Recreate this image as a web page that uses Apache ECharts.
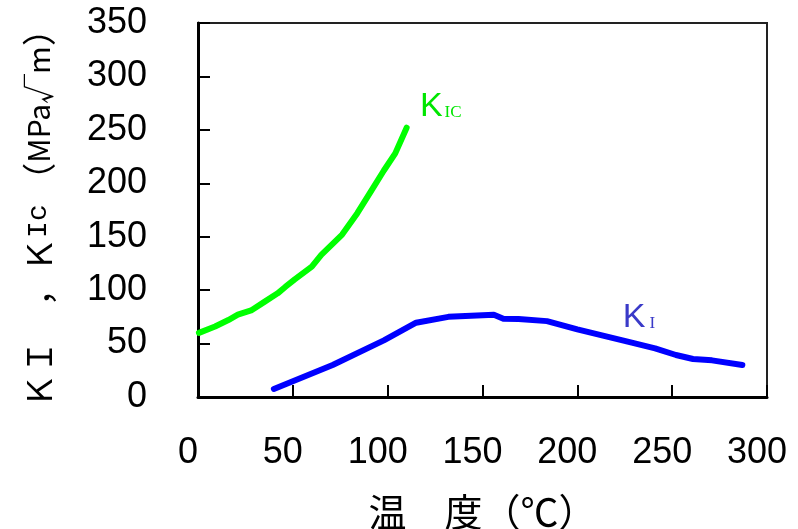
<!DOCTYPE html>
<html>
<head>
<meta charset="utf-8">
<script src="https://cdn.jsdelivr.net/npm/echarts@6/dist/echarts.min.js"></script>
<style>html,body{margin:0;padding:0;background:#fff;}#c{width:798px;height:529px;}</style>
</head>
<body>
<div id="c"></div>
<script>
// Temperature (°C) and K_IC values
const kicTemps = [0.5, 9, 16, 21, 28, 35, 42, 46, 51, 60, 65, 76, 84, 91, 98, 104, 110];
const kicVals  = [60, 66, 72, 77, 81, 89, 97, 103, 110, 122, 133, 152, 172, 192, 212, 228, 252];
// Temperature (°C) and K_I values
const kiTemps = [40, 71, 98, 115, 132, 156, 161, 169, 184, 200, 226, 241, 252, 261, 271, 287];
const kiVals  = [7.5, 30, 53, 69.5, 75, 77, 73.3, 73, 71, 63.3, 52, 45.5, 39.3, 35.6, 34.3, 30];
const xTicks = [0, 50, 100, 150, 200, 250, 300];
const yTicks = [0, 50, 100, 150, 200, 250, 300, 350];
const xName = '温　度（℃）';
const kicLabelPos = [117, 272];
const kiLabelPos = [224, 74];

const chart = echarts.init(document.getElementById('c'), null, {renderer: 'canvas'});
const numFont = 'Liberation Sans';
const xMin = xTicks[0], xMax = xTicks[xTicks.length - 1];
chart.setOption({
  animation: false,
  backgroundColor: '#ffffff',
  grid: {left: 198, right: 31, top: 23, bottom: 132, show: true, borderColor: '#222', borderWidth: 2,
         containLabel: false, outerBoundsMode: 'none'},
  xAxis: {
    type: 'value', position: 'bottom', min: xMin, max: xMax, interval: 50,
    axisLine: {show: true, lineStyle: {color: '#000', width: 3}},
    axisTick: {show: true, inside: true, length: 12, lineStyle: {color: '#000', width: 2}},
    splitLine: {show: false},
    axisLabel: {color: '#000', fontSize: 36, fontFamily: numFont, margin: 38, padding: [0, 20, 0, 0]},
    name: xName, nameLocation: 'middle', nameGap: 96,
    nameTextStyle: {color: '#000', fontSize: 38, fontFamily: 'Noto Sans CJK JP'}
  },
  yAxis: {
    type: 'value', min: yTicks[0], max: yTicks[yTicks.length - 1], interval: 50,
    axisLine: {show: true, lineStyle: {color: '#000', width: 3}},
    axisTick: {show: true, inside: true, length: 12, lineStyle: {color: '#000', width: 2}},
    splitLine: {show: false},
    axisLabel: {color: '#000', fontSize: 36, fontFamily: numFont, margin: 51},
    name: '{a|ＫＩ　，Ｋ}{b|Ic}{a| （}{c|MPa√m}{a|）}',
    nameLocation: 'middle', nameRotate: 90, nameGap: 142,
    nameTextStyle: {
      color: '#000',
      rich: {
        a: {fontSize: 34, fontFamily: 'Noto Sans CJK JP', color: '#000'},
        b: {fontSize: 28, fontFamily: 'Liberation Mono', color: '#000'},
        c: {fontSize: 30, fontFamily: 'Noto Sans CJK JP', color: '#000'}
      }
    }
  },
  series: [
    {
      name: 'KIC', type: 'line', showSymbol: false, symbol: 'none', smooth: false,
      data: kicTemps.map((t, i) => [t, kicVals[i]]),
      lineStyle: {color: '#00ff00', width: 6, cap: 'round', join: 'round'},
      markPoint: {
        symbol: 'circle', symbolSize: 0,
        data: [{coord: kicLabelPos}],
        label: {
          show: true, position: 'right', distance: 0,
          formatter: '{k|K}{s|IC}',
          rich: {
            k: {fontSize: 34, fontFamily: 'Liberation Sans', color: '#00e600'},
            s: {fontSize: 17, fontFamily: 'Liberation Serif', color: '#00e600', padding: [12, 0, 0, 2]}
          }
        }
      }
    },
    {
      name: 'KI', type: 'line', showSymbol: false, symbol: 'none', smooth: false,
      data: kiTemps.map((t, i) => [t, kiVals[i]]),
      lineStyle: {color: '#0000ff', width: 6, cap: 'round', join: 'round'},
      markPoint: {
        symbol: 'circle', symbolSize: 0,
        data: [{coord: kiLabelPos}],
        label: {
          show: true, position: 'right', distance: 0,
          formatter: '{k|K}{s|I}',
          rich: {
            k: {fontSize: 34, fontFamily: 'Liberation Sans', color: '#3a3ac8'},
            s: {fontSize: 17, fontFamily: 'Liberation Serif', color: '#3a3ac8', padding: [12, 0, 0, 4]}
          }
        }
      }
    }
  ]
});
</script>
</body>
</html>
